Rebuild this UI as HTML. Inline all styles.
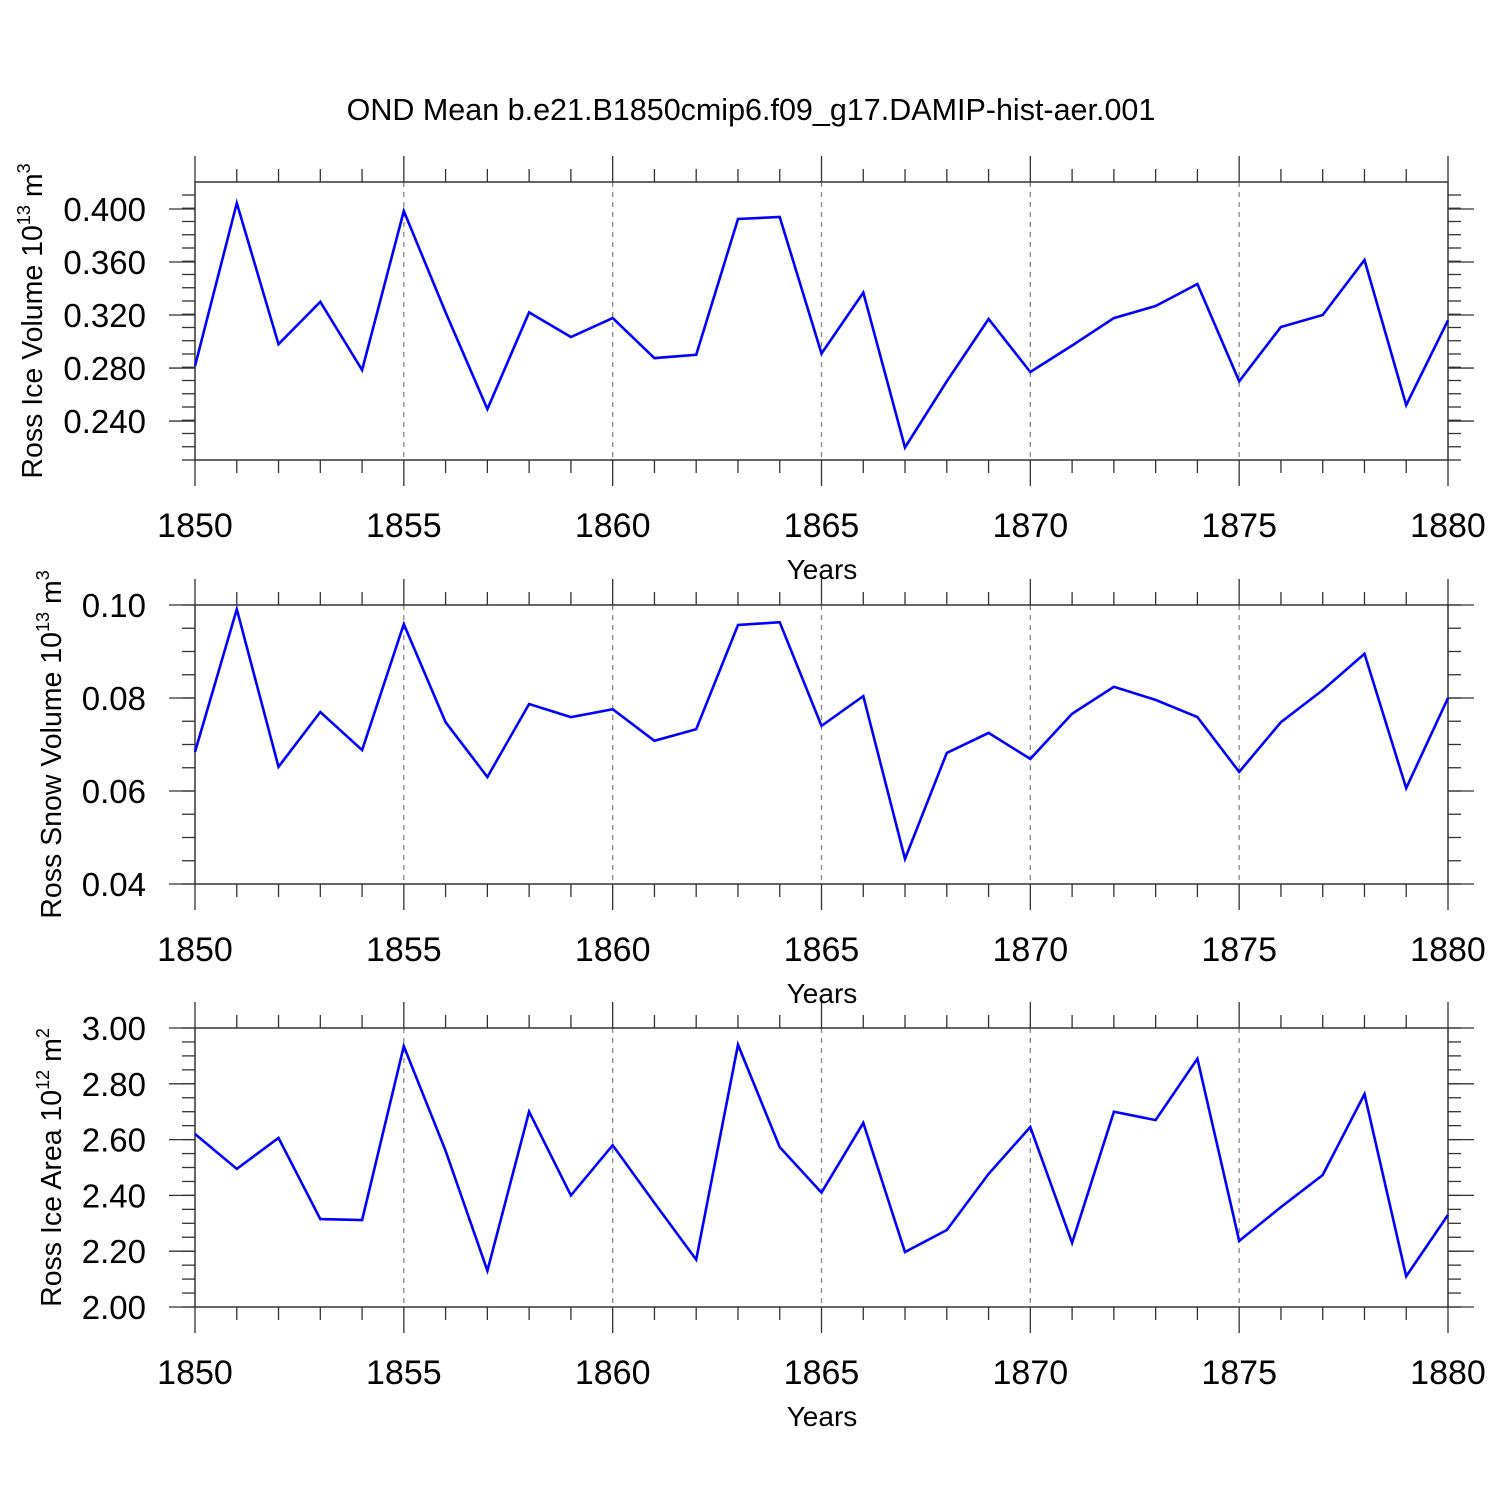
<!DOCTYPE html>
<html><head><meta charset="utf-8"><style>
body{margin:0;background:#fff}
svg{display:block;font-family:"Liberation Sans",Arial,sans-serif}
</style></head><body>
<svg id="chart" width="1500" height="1500" viewBox="0 0 1500 1500">
<text x="751" y="120" font-size="30.5" text-anchor="middle">OND Mean b.e21.B1850cmip6.f09_g17.DAMIP-hist-aer.001</text>
</svg>
<script>
const years = [1850,1851,1852,1853,1854,1855,1856,1857,1858,1859,1860,1861,1862,1863,1864,1865,1866,1867,1868,1869,1870,1871,1872,1873,1874,1875,1876,1877,1878,1879,1880];
const iceVolume = [0.2815,0.4045,0.298,0.330,0.2785,0.3985,0.322,0.249,0.322,0.3034,0.3177,0.2875,0.290,0.3925,0.394,0.291,0.337,0.220,0.270,0.317,0.277,0.297,0.3177,0.3268,0.3434,0.270,0.311,0.320,0.3615,0.252,0.316];
const snowVolume = [0.0684,0.0991,0.0652,0.077,0.0688,0.0959,0.0748,0.063,0.0787,0.0759,0.0776,0.0708,0.0733,0.0957,0.0963,0.074,0.0804,0.0454,0.0682,0.0725,0.0669,0.0766,0.0824,0.0796,0.0759,0.0641,0.0748,0.0817,0.0895,0.0606,0.080];
const iceArea = [2.62,2.495,2.606,2.315,2.312,2.935,2.56,2.13,2.70,2.40,2.58,2.373,2.17,2.94,2.573,2.41,2.66,2.197,2.276,2.477,2.645,2.23,2.70,2.67,2.89,2.237,2.358,2.473,2.763,2.11,2.33];
const xTickLabels = ["1850","1855","1860","1865","1870","1875","1880"];
const iceVolTicks = [0.24,0.28,0.32,0.36,0.40];
const snowVolTicks = [0.04,0.06,0.08,0.10];
const iceAreaTicks = [2.0,2.2,2.4,2.6,2.8,3.0];

const NS="http://www.w3.org/2000/svg";
const svg=document.getElementById('chart');
function mk(tag,attrs,parent){const e=document.createElementNS(NS,tag);for(const k in attrs)e.setAttribute(k,attrs[k]);(parent||svg).appendChild(e);return e;}
const X0=195,X1=1448,xMin=1850,xMax=1880;
function xs(v){return X0+(v-xMin)/(xMax-xMin)*(X1-X0);}

function panel(cfg){
  const g=mk('g',{});
  
  
  const ys=v=>cfg.y0+(cfg.vMax-v)/(cfg.vMax-cfg.vMin)*(cfg.y1-cfg.y0);
  for(let yr=1855;yr<=1875;yr+=5){
    const l=mk('line',{x1:xs(yr),x2:xs(yr),y1:cfg.y0,y2:cfg.y1,stroke:'#888','stroke-width':1.3,'stroke-dasharray':'5,5'},g);
    
    
  }
  for(let yr=xMin;yr<=xMax;yr++){
    const L=(yr%5===0)?26:13;
    mk('line',{x1:xs(yr),x2:xs(yr),y1:cfg.y0-L,y2:cfg.y0,stroke:'#333','stroke-width':1.3},g);
    mk('line',{x1:xs(yr),x2:xs(yr),y1:cfg.y1,y2:cfg.y1+L,stroke:'#333','stroke-width':1.3},g);
  }
  xTickLabels.forEach(s=>{
    const t=mk('text',{x:xs(+s),y:cfg.y1+77,'font-size':34,'text-anchor':'middle'},g);t.textContent=s;
    
    
  });
  const xt=mk('text',{x:822,y:cfg.y1+119,'font-size':28,'text-anchor':'middle'},g);xt.textContent='Years';
  
  
  for(let v=cfg.vMin;v<=cfg.vMax+1e-9;v+=cfg.minor){
    const y=ys(v);
    mk('line',{x1:X0-13,x2:X0,y1:y,y2:y,stroke:'#333','stroke-width':1.3},g);
    mk('line',{x1:X1,x2:X1+13,y1:y,y2:y,stroke:'#333','stroke-width':1.3},g);
  }
  cfg.ticks.forEach(v=>{
    const y=ys(v);
    mk('line',{x1:X0-26,x2:X0,y1:y,y2:y,stroke:'#333','stroke-width':1.3},g);
    mk('line',{x1:X1,x2:X1+26,y1:y,y2:y,stroke:'#333','stroke-width':1.3},g);
    const t=mk('text',{x:146,y:y+12,'font-size':33,'text-anchor':'end'},g);t.textContent=v.toFixed(cfg.dec);
    
    
  });
  mk('rect',{x:X0,y:cfg.y0,width:X1-X0,height:cfg.y1-cfg.y0,fill:'none',stroke:'#333','stroke-width':1.5},g);
  const cy=(cfg.y0+cfg.y1)/2;
  const yt=mk('text',{transform:`translate(${cfg.lx},${cy}) rotate(-90)`,'font-size':28.5,'text-anchor':'middle'},g);
  yt.innerHTML=cfg.label+' 10<tspan dy="-12" font-size="18">'+cfg.exp+'</tspan><tspan dy="12"> m</tspan><tspan dy="-12" font-size="18">'+cfg.pw+'</tspan>';
  
  
  const pts=years.map((yr,i)=>xs(yr).toFixed(1)+','+ys(cfg.data[i]).toFixed(1)).join(' ');
  const pl=mk('polyline',{points:pts,fill:'none',stroke:'#0000ff','stroke-width':2.6,'stroke-linejoin':'miter'},g);
  
  
}
panel({name:'ice-volume-panel',y0:182,y1:460,vMin:0.2106,vMax:0.4204,minor:0.01,ticks:iceVolTicks,dec:3,data:iceVolume,label:'Ross Ice Volume',exp:'13',pw:'3',lx:42});
panel({name:'snow-volume-panel',y0:605,y1:884,vMin:0.04,vMax:0.10,minor:0.005,ticks:snowVolTicks,dec:2,data:snowVolume,label:'Ross Snow Volume',exp:'13',pw:'3',lx:61});
panel({name:'ice-area-panel',y0:1028,y1:1307,vMin:2.0,vMax:3.0,minor:0.05,ticks:iceAreaTicks,dec:2,data:iceArea,label:'Ross Ice Area',exp:'12',pw:'2',lx:61});
</script>
</body></html>
